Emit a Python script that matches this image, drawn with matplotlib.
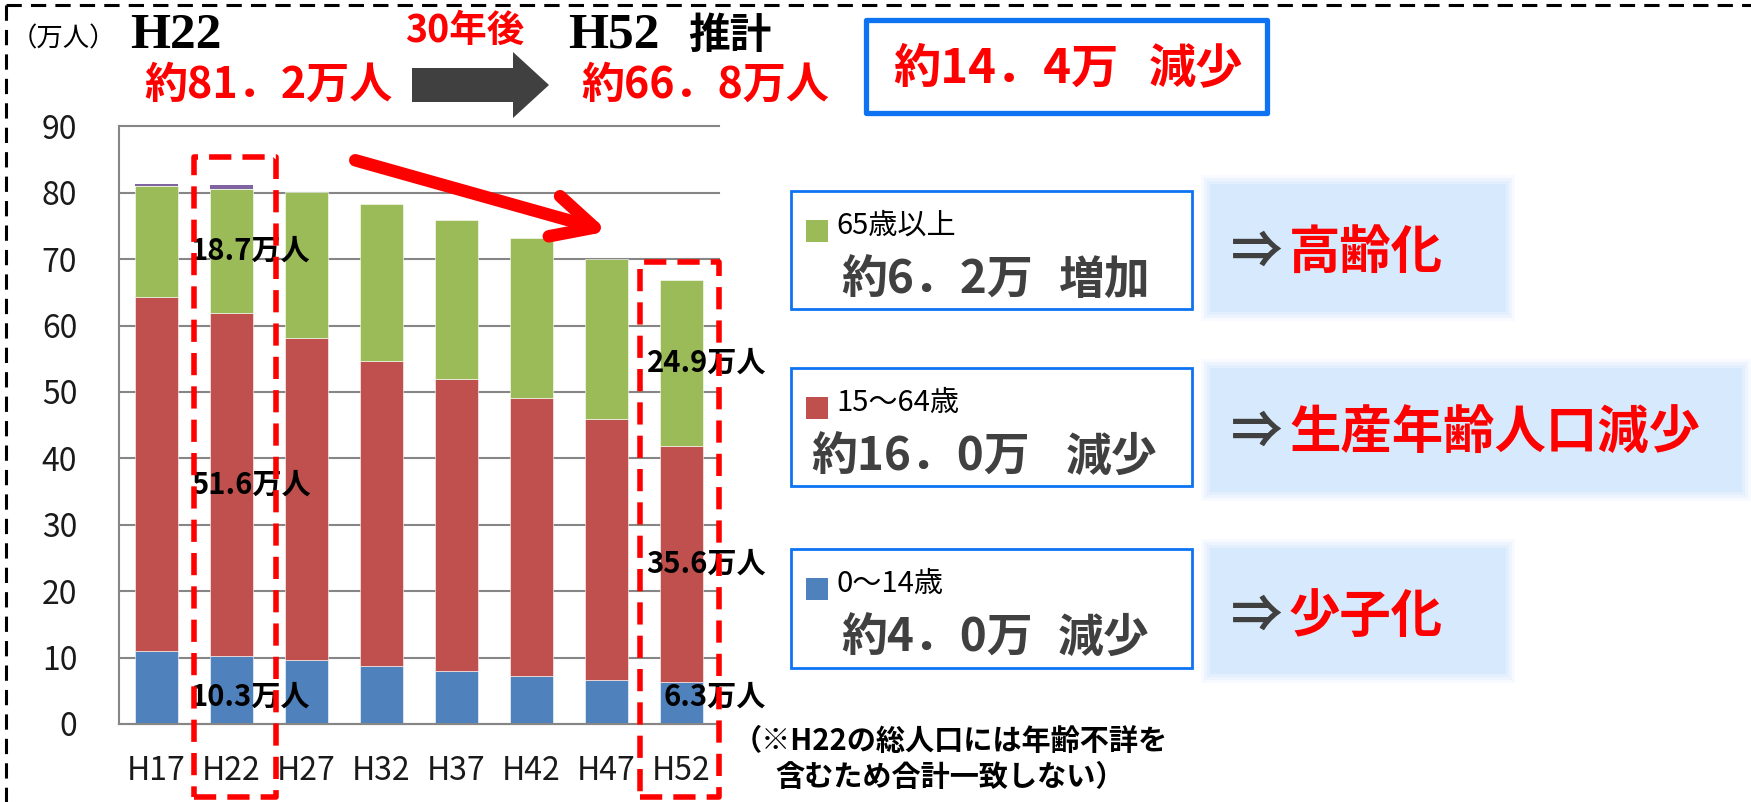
import numpy as np
import matplotlib
matplotlib.use('Agg')
import matplotlib.pyplot as plt
from matplotlib.patches import Rectangle, Polygon
from matplotlib.lines import Line2D

plt.rcParams['font.family'] = ['Noto Sans CJK JP', 'DejaVu Sans']

# 人口（万人）
categories = ['H17', 'H22', 'H27', 'H32', 'H37', 'H42', 'H47', 'H52']
young = [11.0, 10.3, 9.6, 8.8, 8.0, 7.2, 6.7, 6.3]          # 0～14歳
working = [53.3, 51.6, 48.6, 45.9, 44.0, 41.9, 39.2, 35.6]  # 15～64歳
elderly = [16.7, 18.7, 21.9, 23.6, 23.9, 24.1, 24.2, 24.9]  # 65歳以上
unknown = [0.4, 0.5, 0, 0, 0, 0, 0, 0]                      # 年齢不詳

C_BLUE, C_RED, C_GREEN, C_PURPLE = '#4F81BD', '#C0504D', '#9BBB59', '#8064A2'
BOX_BLUE = '#0D73F2'
DARK = '#404040'

W, H = 1751, 802


def fx(px):
    return px / W


def fy(py):
    return 1 - py / H


fig = plt.figure(figsize=(W / 100, H / 100), dpi=100)

# --- グラフ本体 ---
ax = fig.add_axes([fx(119), fy(724), fx(719) - fx(119), fy(126.4) - fy(724)])
x = np.arange(len(categories))
bw = 0.57
b1 = np.array(young)
b2 = b1 + np.array(working)
b3 = b2 + np.array(elderly)
seg = dict(width=bw, edgecolor='white', linewidth=0.4, zorder=2)
ax.bar(x, young, color=C_BLUE, **seg)
ax.bar(x, working, bottom=b1, color=C_RED, **seg)
ax.bar(x, elderly, bottom=b2, color=C_GREEN, **seg)
ax.bar(x, unknown, bottom=b3, color=C_PURPLE, width=bw, zorder=2)

ax.set_xlim(-0.5, 7.5)
ax.set_ylim(0, 90)
ax.set_yticks(range(0, 91, 10))
ax.set_xticks(x)
ax.set_xticklabels(categories)
ax.grid(axis='y', color='#868686', lw=1.5, zorder=0, clip_on=False)
ax.set_axisbelow(True)
for s in ['top', 'right']:
    ax.spines[s].set_visible(False)
for s in ['left', 'bottom']:
    ax.spines[s].set_color('#868686')
    ax.spines[s].set_linewidth(1.5)
ax.tick_params(length=0, labelsize=23, colors='#1a1a1a')
ax.tick_params(axis='y', pad=30)
ax.tick_params(axis='x', pad=22)

# 数値ラベル（H22, H52）
lab = dict(fontsize=21, fontweight='bold', color='black', va='center', zorder=5)
for i, ha, xo in [(1, 'left', 1 - 0.54), (7, 'right', 7 + 1.13)]:
    ax.text(xo, 4.1, f'{young[i]}万人', ha=ha, **lab)
    ax.text(xo, b1[i] + working[i] / 2, f'{working[i]}万人', ha=ha, **lab)
    ax.text(xo, b2[i] + elderly[i] / 2, f'{elderly[i]}万人', ha=ha, **lab)

# 赤い点線枠
dash = dict(fill=False, ec='red', lw=4, ls=(0, (4, 2)), clip_on=False, zorder=6,
            joinstyle='round')
ax.add_patch(Rectangle((0.5, -11.0), 1.093, 96.4, **dash))
ax.add_patch(Rectangle((6.447, -11.0), 1.053, 80.6, **dash))

# 赤い矢印
ax.annotate('', xy=(6.02, 74.2), xytext=(2.65, 84.9), annotation_clip=False,
            arrowprops=dict(arrowstyle='->,head_length=1.5,head_width=0.75',
                            color='red', lw=9, mutation_scale=20,
                            capstyle='round', joinstyle='round',
                            shrinkA=0, shrinkB=0), zorder=7)

# --- 外枠（点線） ---
fig.add_artist(Line2D([fx(6), fx(1751)], [fy(5), fy(5)], color='black', lw=2.2,
                      ls=(0, (5, 3)), transform=fig.transFigure))
fig.add_artist(Line2D([fx(6), fx(6)], [fy(5), fy(802)], color='black', lw=2.2,
                      ls=(0, (5, 3)), transform=fig.transFigure))

# --- 上部の見出し ---
fig.text(fx(11), fy(39), '（万人）', fontsize=19, va='center', ha='left')
fig.text(fx(130), fy(36), 'H22', fontsize=37, fontweight='bold', va='center',
         ha='left', family='Liberation Serif')
fig.text(fx(144), fy(85), '約81．2万人', fontsize=31, fontweight='bold', color='red',
         va='center', ha='left')
fig.text(fx(465), fy(30), '30年後', fontsize=27, fontweight='bold', color='red',
         va='center', ha='center')
fig.add_artist(Polygon([(fx(412), fy(68)), (fx(513), fy(68)), (fx(513), fy(52)),
                        (fx(549), fy(85)), (fx(513), fy(118)), (fx(513), fy(102)),
                        (fx(412), fy(102))], closed=True, fc=DARK, ec='none',
                       transform=fig.transFigure))
fig.text(fx(568), fy(36), 'H52', fontsize=37, fontweight='bold', va='center',
         ha='left', family='Liberation Serif')
fig.text(fx(688), fy(36), '推計', fontsize=30, fontweight='bold', va='center', ha='left')
fig.text(fx(581), fy(85), '約66．8万人', fontsize=31, fontweight='bold', color='red',
         va='center', ha='left')

# 約14.4万 減少 の枠
fig.add_artist(Rectangle((fx(866), fy(113)), fx(1267) - fx(866), fy(20) - fy(113),
                         fill=False, ec=BOX_BLUE, lw=3.8, transform=fig.transFigure,
                         joinstyle='round'))
fig.text(fx(893), fy(69), '約14．4万', fontsize=34, fontweight='bold', color='red',
         va='center', ha='left')
fig.text(fx(1149), fy(69), '減少', fontsize=34, fontweight='bold', color='red',
         va='center', ha='left')


# --- 右側の説明 ---
def soft_box(x0, y0, x1, y1):
    for k, a in [(9, 0.2), (6, 0.3), (3, 0.45)]:
        fig.add_artist(Rectangle((fx(x0 - k), fy(y1 + k)), fx(x1 + k) - fx(x0 - k),
                                 fy(y0 - k) - fy(y1 + k), fc='#d7e9fc', ec='none',
                                 alpha=a, transform=fig.transFigure))
    fig.add_artist(Rectangle((fx(x0), fy(y1)), fx(x1) - fx(x0), fy(y0) - fy(y1),
                             fc='#d7e9fc', ec='none', transform=fig.transFigure))


def legend_box(y0, y1, color, label, amount, change, amount_x, change_x):
    fig.add_artist(Rectangle((fx(791), fy(y1)), fx(1192) - fx(791), fy(y0) - fy(y1),
                             fc='white', ec=BOX_BLUE, lw=2, transform=fig.transFigure))
    fig.add_artist(Rectangle((fx(806), fy(y0 + 51)), fx(828) - fx(806), fy(y0 + 29) - fy(y0 + 51),
                             fc=color, ec='none', transform=fig.transFigure))
    fig.text(fx(836), fy(y0 + 35), label, fontsize=21, va='center', ha='left',
             color='black')
    fig.text(fx(amount_x), fy(y0 + 90), amount, fontsize=33, fontweight='bold',
             color=DARK, va='center', ha='left')
    fig.text(fx(change_x), fy(y0 + 90), change, fontsize=33, fontweight='bold',
             color=DARK, va='center', ha='left')


def result_text(y, words):
    fig.text(fx(1231), fy(y), '⇒', fontsize=37, fontweight='bold', color=DARK,
             va='center', ha='left')
    fig.text(fx(1289), fy(y), words, fontsize=37, fontweight='bold', color='red',
             va='center', ha='left')


legend_box(191, 309, C_GREEN, '65歳以上', '約6．2万', '増加', 841, 1058)
soft_box(1210, 184, 1506, 312)
result_text(252, '高齢化')

legend_box(368, 486, C_RED, '15～64歳', '約16．0万', '減少', 811, 1066)
soft_box(1210, 368, 1742, 492)
result_text(432, '生産年齢人口減少')

legend_box(549, 668, C_BLUE, '0～14歳', '約4．0万', '減少', 841, 1058)
soft_box(1210, 548, 1506, 674)
result_text(616, '少子化')

# 注記
note = dict(fontsize=21, fontweight='bold', color='black', va='center', ha='center')
fig.text(fx(950), fy(741), '（※H22の総人口には年齢不詳を', **note)
fig.text(fx(950), fy(777), '含むため合計一致しない）', **note)

fig.savefig('out.png', dpi=100)
